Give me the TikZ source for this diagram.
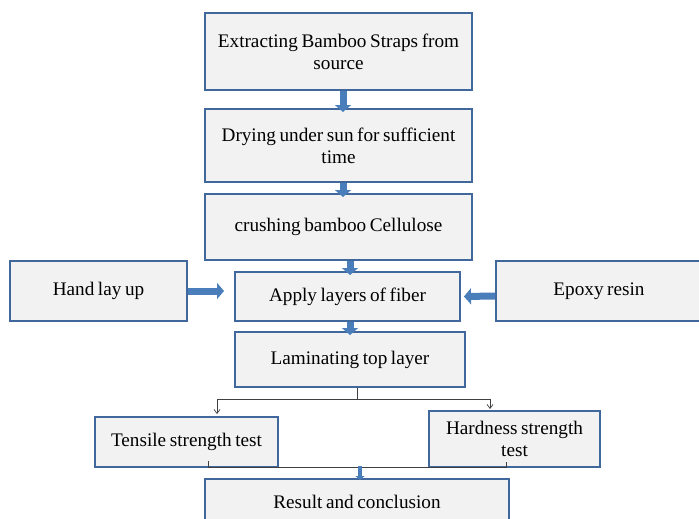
\documentclass[tikz,border=0pt]{standalone}
\usepackage{fontspec}
\setmainfont[WordSpace=0.75]{Liberation Serif}
\usetikzlibrary{arrows.meta,calc}
\definecolor{boxborder}{HTML}{41689C}
\definecolor{boxfill}{HTML}{F2F2F2}
\definecolor{arrowblue}{HTML}{4A7EBB}
\tikzset{
  box/.style={draw=boxborder, line width=2pt, fill=boxfill, align=center, inner sep=2pt,
    font=\fontsize{19.2}{22}\selectfont},
  blockarrow/.style={draw=arrowblue, line width=7pt, -{Triangle[width=16pt,length=7pt]}},
  thinarrow/.style={draw=black!75, line width=0.7pt, -{Straight Barb[length=4pt,width=6pt]}},
  thinline/.style={draw=black!75, line width=0.7pt},
}
\begin{document}
\begin{tikzpicture}[x=1pt,y=-1pt]
\useasboundingbox (0,0) rectangle (699,519);
\node[box, minimum width=267pt, minimum height=77pt] (b1) at (338.5,51.5) {Extracting Bamboo Straps from\\source};
\node[box, minimum width=267pt, minimum height=73pt] (b2) at (338.5,145.5) {Drying under sun for sufficient\\time};
\node[box, minimum width=267pt, minimum height=66pt] (b3) at (338.5,227) {crushing bamboo Cellulose};
\node[box, minimum width=177pt, minimum height=60pt] (hand) at (98.5,291) {Hand lay up};
\node[box, minimum width=225pt, minimum height=49pt] (apply) at (347.5,296.5) {Apply layers of fiber};
\node[box, minimum width=206pt, minimum height=60pt] (epoxy) at (599,291) {Epoxy resin};
\node[box, minimum width=230pt, minimum height=55pt] (lam) at (350,359.5) {Laminating top layer};
\node[box, minimum width=183pt, minimum height=50pt] (tens) at (186.5,442) {Tensile strength test};
\node[box, minimum width=171pt, minimum height=56pt] (hard) at (514.5,439) {Hardness strength\\test};
\node[box, minimum width=304pt, minimum height=52pt, anchor=north] (res) at (357,478) {\raisebox{6pt}{Result and conclusion}};

\draw[blockarrow] ([xshift=4.5pt]b1.south) -- ([xshift=4.5pt,yshift=-4pt]b2.north);
\draw[blockarrow] ([xshift=4.5pt]b2.south) -- ([xshift=4.5pt,yshift=-4pt]b3.north);
\draw[blockarrow] ([xshift=11.5pt]b3.south) -- ([xshift=2.5pt,yshift=-4pt]apply.north);
\draw[blockarrow] ([xshift=2.5pt]apply.south) -- ([yshift=-4pt]lam.north);
\draw[blockarrow] (hand.east) -- ([xshift=-10pt,yshift=5.5pt]apply.west);
\draw[blockarrow] ([yshift=-5pt]epoxy.west) -- ([xshift=3pt]apply.east);

\coordinate (split) at ($(lam.south)+(7pt,-11pt)$);
\draw[thinline] ([xshift=7pt]lam.south) -- (split);
\draw[thinarrow] (split) -| ([xshift=30.5pt,yshift=2pt]tens.north);
\draw[thinarrow] (split) -| ([xshift=-24.5pt,yshift=1pt]hard.north);

\coordinate (join) at (360,466);
\draw[thinline] ([xshift=21.5pt,yshift=7pt]tens.south) -- ([xshift=21.5pt,yshift=1pt]tens.south) -- ([xshift=-8.5pt,yshift=1pt]hard.south) -- ([xshift=-8.5pt,yshift=6pt]hard.south);
\draw[draw=arrowblue, line width=4pt, -{Triangle[width=9pt,length=4pt]}] (join) -- ([yshift=-2pt]res.north -| join);
\end{tikzpicture}
\end{document}
